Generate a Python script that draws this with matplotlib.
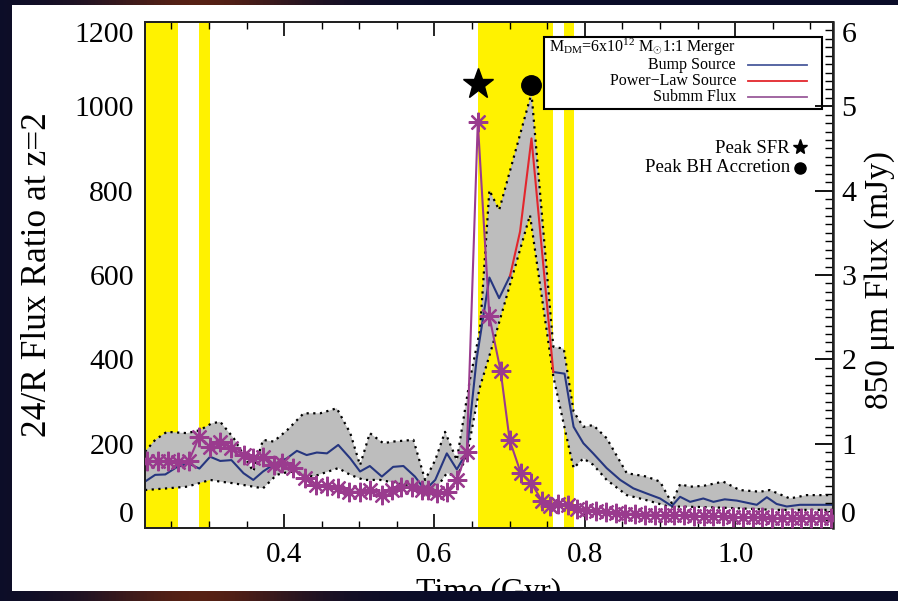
import numpy as np
import matplotlib
matplotlib.use("Agg")
import matplotlib.pyplot as plt
from matplotlib.patches import Rectangle
from matplotlib.ticker import MultipleLocator

plt.rcParams['font.family'] = ['Liberation Serif', 'DejaVu Serif']
plt.rcParams['mathtext.fontset'] = 'custom'
plt.rcParams['mathtext.rm'] = 'Liberation Serif'
plt.rcParams['mathtext.it'] = 'Liberation Serif:italic'

# ---------------- data ----------------
# yellow shaded intervals (Gyr)
band_starts = [0.215, 0.2874, 0.6584, 0.7723]
band_ends = [0.2587, 0.3016, 0.758, 0.786]

# bump source (blue) - left axis
t_bump1 = [0.215, 0.2285, 0.242, 0.257, 0.2727, 0.2874, 0.3016, 0.315, 0.330, 0.346,
           0.359, 0.372, 0.388, 0.4035, 0.417, 0.430, 0.4435, 0.457, 0.472, 0.488,
           0.501, 0.514, 0.530, 0.545, 0.5587, 0.574, 0.5875, 0.601, 0.6164, 0.6297,
           0.643, 0.656, 0.673, 0.686, 0.7005]
bump1 = [110, 126, 127, 144, 153, 141, 169, 159, 161, 130,
         114, 134, 153, 165, 183, 173, 179, 177, 197, 165,
         134, 147, 122, 145, 147, 122, 90, 114, 177, 139,
         180, 400, 594, 545, 598]
t_bump2 = [0.758, 0.773, 0.785, 0.798, 0.811, 0.829, 0.847, 0.8645, 0.882, 0.900,
           0.9156, 0.9266, 0.940, 0.9575, 0.971, 0.986, 1.002, 1.0286, 1.042, 1.055,
           1.0685, 1.086, 1.108, 1.13]
bump2 = [370, 366, 240, 201, 177, 142, 114, 94, 82, 70,
         52, 74, 62, 70, 62, 68, 65, 55, 73, 57,
         51, 55, 55, 55]

# power-law source (red) - left axis
t_pl = [0.7005, 0.7138, 0.729, 0.758]
pl = [598, 703, 924, 370]

# grey uncertainty band - left axis
t_hi = [0.215, 0.2285, 0.244, 0.271, 0.288, 0.3035, 0.315, 0.333, 0.359, 0.372,
        0.386, 0.404, 0.426, 0.448, 0.470, 0.488, 0.501, 0.514, 0.532, 0.545,
        0.572, 0.5875, 0.601, 0.614, 0.6297, 0.647, 0.6606, 0.673, 0.686, 0.729,
        0.758, 0.772, 0.785, 0.798, 0.811, 0.829, 0.8557, 0.882, 0.900, 0.9156,
        0.9266, 0.940, 0.958, 0.984, 1.006, 1.033, 1.046, 1.0727, 1.095, 1.13]
band_hi = [181, 209, 228, 225, 232, 248, 252, 213, 134, 209,
           205, 232, 272, 272, 284, 225, 149, 225, 201, 205,
           209, 114, 161, 228, 161, 351, 470, 801, 754, 1031,
           430, 425, 276, 240, 244, 213, 130, 122, 110, 59,
           104, 98, 100, 110, 90, 86, 90, 70, 78, 78]
t_lo = [0.215, 0.244, 0.271, 0.3016, 0.315, 0.333, 0.359, 0.372, 0.390, 0.408,
        0.439, 0.472, 0.488, 0.506, 0.528, 0.550, 0.570, 0.586, 0.596, 0.6164,
        0.6297, 0.643, 0.6597, 0.678, 0.727, 0.758, 0.7737, 0.785, 0.798, 0.811,
        0.829, 0.8557, 0.882, 0.911, 0.95, 1.0, 1.05, 1.13]
band_lo = [90, 94, 98, 114, 110, 106, 98, 94, 126, 134,
           122, 142, 126, 114, 114, 106, 98, 74, 78, 130,
           122, 169, 330, 438, 742, 360, 232, 142, 165, 150,
           114, 78, 66, 51, 50, 47, 43, 43]

# submm flux (purple) - right axis, mJy
t_sub = [0.218, 0.232, 0.246, 0.259, 0.273, 0.287, 0.302, 0.315, 0.330, 0.346,
         0.359, 0.372, 0.386, 0.397, 0.412, 0.428, 0.443, 0.457, 0.472, 0.486,
         0.501, 0.514, 0.530, 0.543, 0.556, 0.570, 0.583, 0.591, 0.603, 0.616,
         0.630, 0.643, 0.6576, 0.673, 0.688, 0.700, 0.7147, 0.729, 0.7427, 0.7537,
         0.7648, 0.778, 0.789, 0.802, 0.815, 0.828, 0.841, 0.854, 0.867, 0.880,
         0.893, 0.906, 0.919, 0.932, 0.945, 0.958, 0.971, 0.984, 0.997, 1.010,
         1.023, 1.036, 1.049, 1.062, 1.075, 1.088, 1.101, 1.114, 1.127]
submm = [0.80, 0.79, 0.80, 0.78, 0.79, 1.08, 0.96, 1.02, 0.945, 0.866,
         0.83, 0.845, 0.75, 0.77, 0.71, 0.59, 0.51, 0.50, 0.47, 0.43,
         0.43, 0.45, 0.39, 0.45, 0.49, 0.49, 0.45, 0.45, 0.41, 0.43,
         0.57, 0.905, 4.81, 2.51, 1.86, 1.04, 0.656, 0.53, 0.325, 0.26,
         0.285, 0.27, 0.23, 0.21, 0.20, 0.19, 0.18, 0.17, 0.17, 0.16,
         0.16, 0.15, 0.15, 0.15, 0.14, 0.14, 0.14, 0.14, 0.13, 0.13,
         0.13, 0.13, 0.12, 0.12, 0.12, 0.12, 0.12, 0.12, 0.12]

peak_sfr = (0.6576, 1054)
peak_bh = (0.729, 1050)

x_ticks = [0.4, 0.6, 0.8, 1.0]
x_ticklabels = ['0.4', '0.6', '0.8', '1.0']
y_ticks = [0, 200, 400, 600, 800, 1000, 1200]
y2_ticks = [0, 1, 2, 3, 4, 5, 6]

# ---------------- styling ----------------
YELLOW = '#fff200'
GREY = '#bdbdbd'
BLUE = '#26367f'
RED = '#e3262c'
PURPLE = '#9a3b8e'

W, H = 898, 601
fig = plt.figure(figsize=(W / 100, H / 100), dpi=100)
fig.patch.set_facecolor('#0a0c24')

# slide-like backdrop
bg = fig.add_axes([0, 0, 1, 1], zorder=-10)
grad = np.linspace(0, 1, 256)
img = np.zeros((2, 256, 3))
img[..., 0] = 0.04 + 0.30 * np.exp(-((grad - 0.22) / 0.12) ** 2)
img[..., 1] = 0.05 + 0.08 * np.exp(-((grad - 0.22) / 0.12) ** 2)
img[..., 2] = 0.16 - 0.08 * np.exp(-((grad - 0.22) / 0.12) ** 2)
bg.imshow(img, extent=[0, 1, 0, 1], aspect='auto', transform=bg.transAxes)
bg.set_axis_off()
fig.patches.append(Rectangle((12 / W, 10 / H), 1 - 12 / W, (591 - 5) / H,
                             transform=fig.transFigure, facecolor='white',
                             edgecolor='none', zorder=-5))

L, R, T, B = 145, 833, 22, 528
ax = fig.add_axes([L / W, 1 - B / H, (R - L) / W, (B - T) / H])
ax.set_facecolor('none')
ax2 = ax.twinx()

ax.set_xlim(0.215, 1.13)
ax.set_ylim(0, 1200)
ax2.set_ylim(0, 6)

for s, e in zip(band_starts, band_ends):
    ax.axvspan(s, e, color=YELLOW, lw=0, zorder=1)

poly_x = np.concatenate([t_hi, t_lo[::-1]])
poly_y = np.concatenate([band_hi, band_lo[::-1]])
ax.fill(poly_x, poly_y, color=GREY, lw=0, zorder=2)
ax.plot(t_hi, band_hi, color='black', ls=(0, (1, 2)), lw=1.6, zorder=3)
ax.plot(t_lo, band_lo, color='black', ls=(0, (1, 2)), lw=1.6, zorder=3)

ax.plot(t_bump1, bump1, color=BLUE, lw=1.5, zorder=4)
ax.plot(t_bump2, bump2, color=BLUE, lw=1.5, zorder=4)
ax.plot(t_pl, pl, color=RED, lw=1.5, zorder=4)

ax.plot(*peak_sfr, marker='*', ms=23, color='black', zorder=6, clip_on=False)
ax.plot(*peak_bh, marker='o', ms=14, color='black', zorder=6, clip_on=False)

ax2.plot(t_sub, submm, color=PURPLE, lw=1.5, marker=(8, 2, 0), ms=14, mew=1.6,
         zorder=5)

# ticks
ax.set_xticks(x_ticks)
ax.set_xticklabels(x_ticklabels)
ax.xaxis.set_minor_locator(MultipleLocator(0.05))
ax.set_yticks(y_ticks)
ax2.set_yticks(y2_ticks)
ax2.yaxis.set_minor_locator(MultipleLocator(0.1))
ax.tick_params(axis='x', which='major', direction='in', length=10, width=1.2,
               top=True, labelsize=21, pad=10, colors='black')
ax.tick_params(axis='x', which='minor', direction='in', length=5, width=1.0, top=True)
ax.tick_params(axis='y', which='both', length=0, labelsize=21.5, pad=8)
ax2.tick_params(axis='y', which='major', direction='in', length=13, width=1.3,
                labelsize=21.5, pad=6)
ax2.tick_params(axis='y', which='minor', direction='in', length=6, width=1.0)

for a in (ax, ax2):
    for sp in a.spines.values():
        sp.set_linewidth(1.4)
        sp.set_color('#222222')
ax.spines['left'].set_color('#555555')
ax2.spines['right'].set_linewidth(1.8)

yl = ax.get_yticklabels()
yl[0].set_va('bottom')
yl[-1].set_va('top')
yl2 = ax2.get_yticklabels()
yl2[0].set_va('bottom')
yl2[-1].set_va('top')

fig.text(38 / W, 1 - 275 / H, '24/R Flux Ratio at z=2', rotation=90,
         ha='center', va='center', fontsize=25.5)
fig.text(880 / W, 1 - 280 / H, '850 \u03bcm Flux (mJy)', rotation=90,
         ha='center', va='center', fontsize=24)
fig.text(489 / W, 1 - 578 / H, 'Time (Gyr)', ha='center', va='top', fontsize=23)

# bottom dark strip covering the cut-off label
strip = fig.add_axes([0, 0, 1, 10 / H], zorder=10)
strip.imshow(img, extent=[0, 1, 0, 1], aspect='auto')
strip.set_axis_off()

# legend box
ax.add_patch(Rectangle((0.580, 0.828), 0.4036, 0.142, transform=ax.transAxes,
                       facecolor='white', edgecolor='black', lw=1.5, zorder=7))
ax.text(0.5877, 0.950, r'M$_{\rm DM}$=6x10$^{12}$ M$_{\odot}$1:1 Merger',
        transform=ax.transAxes, fontsize=11.5, ha='left', va='center', zorder=8)
leg_items = [('Bump Source', '#4a5a9c', 0.9150),
             ('Power\u2212Law Source', RED, 0.883),
             ('Submm Flux', '#9a5a9a', 0.851)]
for label, c, yy in leg_items:
    ax.text(0.859, yy, label, transform=ax.transAxes, fontsize=11.5,
            ha='right', va='center', zorder=8)
    ax.plot([0.876, 0.962], [yy, yy], transform=ax.transAxes, color=c, lw=1.3,
            zorder=8)

ax.text(0.9375, 0.750, 'Peak SFR', transform=ax.transAxes, fontsize=13.5,
        ha='right', va='center', zorder=8)
ax.plot([0.952], [0.752], marker='*', ms=11, color='black', transform=ax.transAxes,
        zorder=8)
ax.text(0.9375, 0.712, 'Peak BH Accretion', transform=ax.transAxes, fontsize=13.5,
        ha='right', va='center', zorder=8)
ax.plot([0.952], [0.712], marker='o', ms=8, color='black', transform=ax.transAxes,
        zorder=8)

ax.set_zorder(2)
ax2.set_zorder(3)
ax2.patch.set_visible(False)

fig.savefig('out.png', dpi=100, facecolor=fig.get_facecolor())
